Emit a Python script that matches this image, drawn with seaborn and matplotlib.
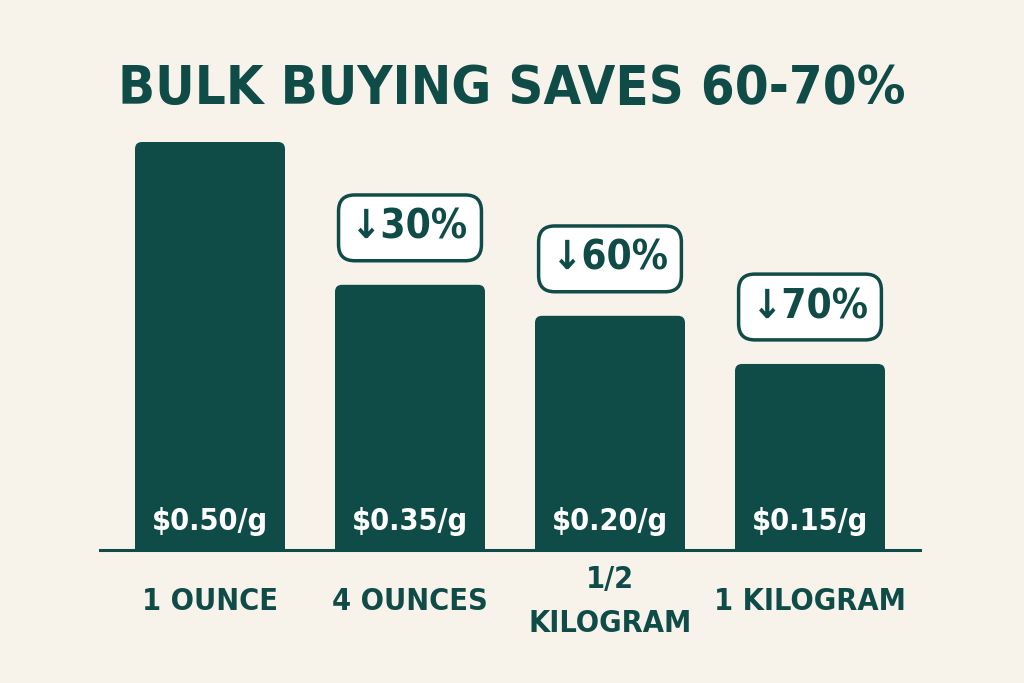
import numpy as np
import pandas as pd
import matplotlib
matplotlib.use("Agg")
import matplotlib.pyplot as plt
from matplotlib.patches import FancyBboxPatch
import seaborn as sns

# data
sizes = ["1 OUNCE", "4 OUNCES", "1/2\nKILOGRAM", "1 KILOGRAM"]
price_labels = ["$0.50/g", "$0.35/g", "$0.20/g", "$0.15/g"]
bar_height = [100, 65, 57.4, 45.6]   # relative bar heights as drawn
savings = [None, "↓30%", "↓60%", "↓70%"]

teal = "#0f4c48"
bg = "#f7f3eb"

sns.set_theme(style="white")
plt.rcParams["font.family"] = ["DejaVu Sans"]
plt.rcParams["font.weight"] = "bold"
plt.rcParams["font.stretch"] = "condensed"

df = pd.DataFrame({"size": sizes, "h": bar_height})

fig = plt.figure(figsize=(10.24, 6.83), dpi=100, facecolor=bg)
ax = fig.add_axes([100 / 1024, 133 / 683, 820 / 1024, 408 / 683])
ax.set_facecolor(bg)

sns.barplot(data=df, x="size", y="h", color=teal, width=0.75, saturation=1, ax=ax)
ax.set_xlim(-0.55, 3.55)
ax.set_ylim(0, 100)

# swap plain bars for ones with rounded tops
for p in list(ax.patches):
    x, w, h = p.get_x(), p.get_width(), p.get_height()
    p.set_visible(False)
    r = FancyBboxPatch((x, -5), w, h + 5, boxstyle="round,pad=0,rounding_size=0.035",
                       mutation_aspect=49, fc=teal, ec="none", clip_on=True)
    ax.add_patch(r)

for i, (lab, h, s) in enumerate(zip(price_labels, bar_height, savings)):
    ax.text(i, 6.9, lab, ha="center", va="center", color="white", fontsize=22)
    if s:
        ax.annotate(s, (i, h), xytext=(0, 41), textcoords="offset points",
                    ha="center", va="center", fontsize=29, color=teal,
                    bbox=dict(boxstyle="round,pad=0.32,rounding_size=0.4",
                              fc="white", ec=teal, lw=2.5))

sns.despine(ax=ax, left=True)
ax.spines["bottom"].set_color(teal)
ax.spines["bottom"].set_linewidth(2.2)
ax.set_yticks([])
ax.set_xlabel("")
ax.set_ylabel("")
ax.tick_params(axis="x", length=0, pad=37)
for t in ax.get_xticklabels():
    t.set_fontsize(22)
    t.set_color(teal)
    t.set_va("center")
    t.set_linespacing(1.65)

fig.text(0.5, 1 - 89 / 683, "BULK BUYING SAVES 60-70%", ha="center", va="center",
         fontsize=39, color=teal)

fig.savefig("out.png", dpi=100, facecolor=bg)
